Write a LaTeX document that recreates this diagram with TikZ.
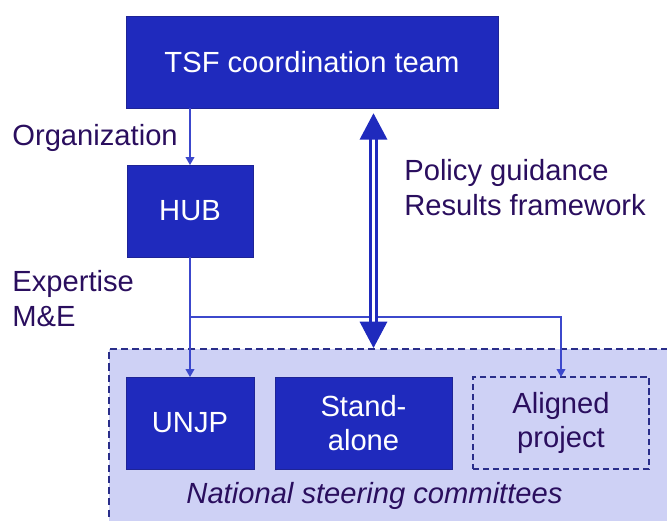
\documentclass[tikz,border=0pt]{standalone}
\usepackage{fontspec}
\setmainfont{Liberation Sans}
\usetikzlibrary{arrows.meta, positioning}
\definecolor{boxblue}{RGB}{31,42,189}
\definecolor{boxedge}{RGB}{30,36,150}
\definecolor{regionfill}{RGB}{206,209,245}
\definecolor{regionedge}{RGB}{42,46,138}
\definecolor{labeltext}{RGB}{42,14,94}
\definecolor{linkblue}{RGB}{60,72,204}
\newcommand{\diagfont}{\fontsize{16.6}{19.8}\selectfont}
\tikzset{%
blue box/.style={
    rectangle, draw=boxedge, fill=boxblue, text=white,
    align=center, inner sep=0pt, outer sep=0pt,
    minimum height=1.84cm, font=\diagfont
},
aligned box/.style={
    blue box, fill=regionfill, draw=regionedge, text=labeltext,
    line width=0.8pt, dash pattern=on 3.5pt off 2.2pt
},
side label/.style={anchor=base west, align=left, inner sep=0pt,
    text=labeltext, font=\diagfont},
link/.style={draw=linkblue, line width=0.6pt,
    -{Triangle[length=4.5pt, width=5pt]}},
big arrow/.style={draw=boxblue, line width=1.5pt, double=white,
    double distance=1.9pt,
    {Triangle[length=15pt, width=15.5pt]}-{Triangle[length=15pt, width=15.5pt]}},
}

\begin{document}
\begin{tikzpicture}[x=0.02cm, y=-0.02cm]
\useasboundingbox (0,0) rectangle (667,521);

% national steering committees
\node (nsc) [rectangle, anchor=north west, fill=regionfill, draw=regionedge,
    line width=1pt, dash pattern=on 4pt off 2.4pt,
    minimum width=11.5cm, minimum height=3.7cm, inner sep=0pt] at (108,348) {};
\node (nsc-label) [anchor=base, inner sep=0pt, text=labeltext, font=\diagfont\itshape]
    at (374.5,503) {National steering committees};

% boxes
\node (tsf) [blue box, minimum width=7.44cm] at (312,62) {TSF coordination team};
\node (hub) [blue box, minimum width=2.52cm] at (190,211) {HUB};
\node (unjp) [blue box, minimum width=2.56cm] at (190,423) {UNJP};
\node (standalone) [blue box, minimum width=3.54cm] at (363.5,423) {Stand-\\alone};
\node (aligned) [aligned box, minimum width=3.52cm] at (561,423) {Aligned\\project};

% labels (base = last line)
\node (org) [side label] at (12,145) {Organization};
\node (expertise) [side label] at (12,326) {Expertise\\M\&E};
\node (policy) [side label] at (404,215) {Policy guidance\\Results framework};

% connectors
\draw [link] (tsf.south -| hub.north) -- (hub.north);
\draw [link] (hub.south) -- (unjp.north);
\coordinate (split) at (190,317);
\draw [link] (split) -- (split -| aligned.north) -- (aligned.north);
\coordinate (mid) at (373.5,0);
\draw [big arrow] ([yshift=-3pt]tsf.south -| mid) -- (nsc.north -| mid);
\end{tikzpicture}
\end{document}
